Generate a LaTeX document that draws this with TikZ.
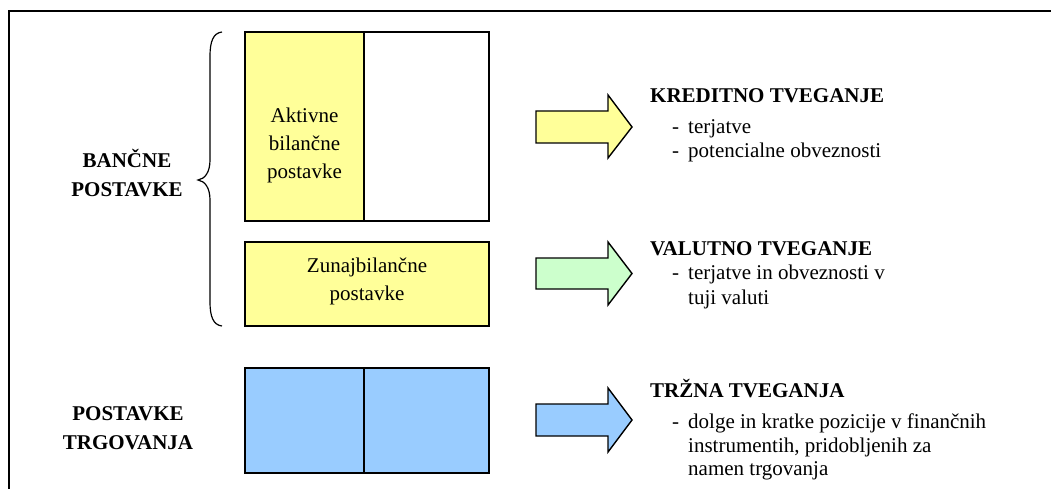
\documentclass[tikz,border=0pt]{standalone}
\usepackage{fontspec}
\setmainfont{Liberation Serif}
\definecolor{yel}{HTML}{FFFF99}
\definecolor{grn}{HTML}{CCFFCC}
\definecolor{blu}{HTML}{99CCFF}
\begin{document}
\begin{tikzpicture}[x=1pt,y=-1pt,
  cell/.style={draw=black,line width=1.6pt,minimum width=#1,inner sep=0pt},
  blockarrow/.style={draw=black,line width=1.4pt,line join=miter},
  txt/.style={font=\fontsize{21}{24}\selectfont,inner sep=0pt},
  head/.style={font=\fontsize{21}{24}\selectfont\bfseries,inner sep=0pt},
  boxtxt/.style={font=\fontsize{21}{28}\selectfont,align=center,inner sep=0pt},
  lbl/.style={font=\fontsize{21}{29}\selectfont\bfseries,align=center,inner sep=0pt}]
\useasboundingbox (0,0) rectangle (1051,489);
% outer frame
\draw[line width=2pt] (9,489) -- (9,11) -- (1051,11);

% bank items
\node[cell=119pt,minimum height=189pt,fill=yel] (akt) at (304.5,126.5) {};
\node[cell=125pt,minimum height=189pt,fill=white] (aktr) at (426.5,126.5) {};
\node[boxtxt] (akttxt) at (304.5,145) {Aktivne\\bilančne\\postavke};
\node[cell=244pt,minimum height=84pt,fill=yel] (zun) at (367,284) {};
\node[boxtxt] (zuntxt) at (367,281) {Zunajbilančne\\postavke};

% trading items
\node[cell=119pt,minimum height=105pt,fill=blu] (trl) at (304.5,420.5) {};
\node[cell=125pt,minimum height=105pt,fill=blu] (trr) at (426.5,420.5) {};

% brace
\draw[line width=1.2pt] (222,32) .. controls (213,33) and (210,42) .. (210,56)
  -- (210,160) .. controls (210,172) and (205,179) .. (198,180)
  .. controls (205,181) and (210,188) .. (210,200)
  -- (210,302) .. controls (210,316) and (213,325) .. (222,326);

% left labels
\node[lbl] (bank) at (127,173) {BANČNE\\POSTAVKE};
\node[lbl] (trade) at (128,428) {POSTAVKE\\TRGOVANJA};

% block arrows
\draw[blockarrow,fill=yel] (536,111) -- (608,111) -- (608,95) -- (632,127) -- (608,158) -- (608,143) -- (536,143) -- cycle;
\draw[blockarrow,fill=grn] (536,258) -- (608,258) -- (608,242) -- (632,273.5) -- (608,305) -- (608,289) -- (536,289) -- cycle;
\draw[blockarrow,fill=blu] (536,404) -- (608,404) -- (608,388) -- (632,420) -- (608,452) -- (608,436) -- (536,436) -- cycle;

% risk descriptions
\node[head,anchor=base west] (kred) at (650,103) {KREDITNO TVEGANJE};
\node[txt,anchor=base west] (k1d) at (672,134) {-};
\node[txt,anchor=base west] (k1) at (688,134) {terjatve};
\node[txt,anchor=base west] (k2d) at (672,158) {-};
\node[txt,anchor=base west] (k2) at (688,158) {potencialne obveznosti};

\node[head,anchor=base west] (val) at (650,255) {VALUTNO TVEGANJE};
\node[txt,anchor=base west] (v1d) at (672,279) {-};
\node[txt,anchor=base west] (v1) at (688,279) {terjatve in obveznosti v};
\node[txt,anchor=base west] (v2) at (688,304) {tuji valuti};

\node[head,anchor=base west] (trz) at (650,397) {TRŽNA TVEGANJA};
\node[txt,anchor=base west] (t1d) at (672,428) {-};
\node[txt,anchor=base west] (t1) at (688,428) {dolge in kratke pozicije v finančnih};
\node[txt,anchor=base west] (t2) at (688,452) {instrumentih, pridobljenih za};
\node[txt,anchor=base west] (t3) at (688,475) {namen trgovanja};
\end{tikzpicture}
\end{document}
